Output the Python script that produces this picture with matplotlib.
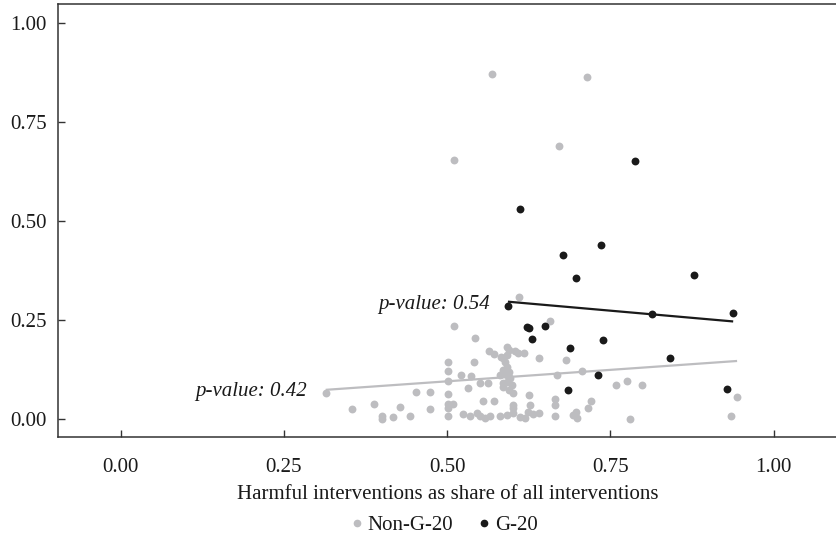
import matplotlib
matplotlib.use("Agg")
import matplotlib.pyplot as plt
from matplotlib.lines import Line2D
import numpy as np

plt.rcParams['font.family'] = ['Liberation Serif', 'DejaVu Serif']

# ---- data ----
nong20_x = [0.569, 0.714, 0.672, 0.510, 0.610, 0.658, 0.511, 0.542,
            0.564, 0.571, 0.583, 0.501, 0.541, 0.501, 0.521, 0.537, 0.501, 0.550, 0.563, 0.532, 0.581, 0.586,
            0.591, 0.594, 0.604, 0.609, 0.617, 0.591, 0.586, 0.588, 0.591, 0.586, 0.594, 0.591, 0.596, 0.591, 0.599, 0.586, 0.594, 0.601,
            0.640, 0.682, 0.707, 0.668, 0.758, 0.775, 0.799, 0.944,
            0.314, 0.355, 0.388, 0.400, 0.400, 0.417, 0.428, 0.443, 0.453, 0.473, 0.501, 0.474, 0.501, 0.509, 0.501, 0.501,
            0.555, 0.571, 0.525, 0.535, 0.550, 0.566, 0.581, 0.591, 0.626, 0.601, 0.601, 0.601, 0.665, 0.665, 0.665,
            0.721, 0.715, 0.698, 0.693, 0.699, 0.624, 0.632, 0.641, 0.619, 0.627, 0.780, 0.934, 0.611, 0.546, 0.558]
nong20_y = [0.871, 0.865, 0.690, 0.655, 0.309, 0.246, 0.234, 0.204,
            0.171, 0.163, 0.157, 0.144, 0.144, 0.121, 0.111, 0.108, 0.095, 0.091, 0.091, 0.077, 0.111, 0.090,
            0.182, 0.174, 0.170, 0.165, 0.165, 0.161, 0.153, 0.144, 0.132, 0.123, 0.119, 0.111, 0.102, 0.094, 0.085, 0.081, 0.073, 0.064,
            0.153, 0.149, 0.120, 0.111, 0.086, 0.095, 0.084, 0.054,
            0.066, 0.024, 0.038, 0.007, 0.000, 0.005, 0.029, 0.007, 0.067, 0.067, 0.063, 0.025, 0.038, 0.037, 0.026, 0.008,
            0.045, 0.045, 0.012, 0.008, 0.006, 0.008, 0.006, 0.010, 0.060, 0.035, 0.026, 0.014, 0.049, 0.035, 0.007,
            0.045, 0.026, 0.018, 0.009, 0.001, 0.018, 0.012, 0.014, 0.001, 0.035, 0.000, 0.008, 0.005, 0.014, 0.002]

g20_x = [0.787, 0.611, 0.677, 0.735, 0.698, 0.878, 0.593, 0.938, 0.814, 0.622,
         0.626, 0.650, 0.630, 0.688, 0.738, 0.841, 0.731, 0.685, 0.928]
g20_y = [0.652, 0.531, 0.415, 0.439, 0.357, 0.364, 0.285, 0.268, 0.264, 0.233,
         0.229, 0.235, 0.202, 0.178, 0.198, 0.154, 0.110, 0.073, 0.076]

# fitted lines (endpoints)
fit_nong20_x = [0.314, 0.944]
fit_nong20_y = [0.073, 0.146]
fit_g20_x = [0.593, 0.938]
fit_g20_y = [0.296, 0.246]

pval_nong20 = "p-value: 0.42"
pval_g20 = "p-value: 0.54"

x_ticks = [0.00, 0.25, 0.50, 0.75, 1.00]
y_ticks = [0.00, 0.25, 0.50, 0.75, 1.00]
x_label = "Harmful interventions as share of all interventions"
legend_labels = ["Non-G-20", "G-20"]

grey = "#bdbdc0"
dark = "#1a1a1a"

# ---- figure ----
fig = plt.figure(figsize=(8.37, 5.48), dpi=100)
W, H = 837, 548
ax = fig.add_axes([58 / W, 1 - 437 / H, (837 - 58) / W, (437 - 4) / H])

ax.scatter(nong20_x, nong20_y, s=32, color=grey, linewidths=0, zorder=2)
ax.plot(fit_nong20_x, fit_nong20_y, color=grey, lw=1.6, zorder=3, solid_capstyle='butt')
ax.scatter(g20_x, g20_y, s=32, color=dark, linewidths=0, zorder=4)
ax.plot(fit_g20_x, fit_g20_y, color=dark, lw=1.6, zorder=5, solid_capstyle='butt')

fs = 15
ax.text(fit_nong20_x[0] - 0.028, fit_nong20_y[0] - 0.005, pval_nong20, ha='right', va='center',
        fontsize=fs, style='italic', color=dark)
ax.text(fit_g20_x[0] - 0.027, fit_g20_y[0] - 0.006, pval_g20, ha='right', va='center',
        fontsize=fs, style='italic', color=dark)

ax.set_xlim(-0.096, 1.097)
ax.set_ylim(-0.0463, 1.049)
ax.set_xticks(x_ticks)
ax.set_xticklabels([f"{v:.2f}" for v in x_ticks])
ax.set_yticks(y_ticks)
ax.set_yticklabels([f"{v:.2f}" for v in y_ticks])
ax.tick_params(direction='in', length=5, width=1.0, color='#333333', labelsize=fs,
               labelcolor=dark)
ax.tick_params(axis='y', pad=8)
ax.tick_params(axis='x', pad=15)
for side in ['left', 'bottom', 'top']:
    ax.spines[side].set_linewidth(1.1)
    ax.spines[side].set_color('#333333')
ax.spines['right'].set_visible(False)

ax.set_xlabel(x_label, fontsize=fs, color=dark, labelpad=6)

handles = [Line2D([], [], marker='o', ls='none', color=grey, markersize=4.5),
           Line2D([], [], marker='o', ls='none', color=dark, markersize=4.5)]
fig.legend(handles, legend_labels, loc='center', bbox_to_anchor=(442 / W, 1 - 525 / H),
           ncol=2, frameon=False, fontsize=fs, handletextpad=0.0, columnspacing=1.0,
           handlelength=1.0, borderaxespad=0, labelcolor=dark)

fig.savefig("out.png", dpi=100)
